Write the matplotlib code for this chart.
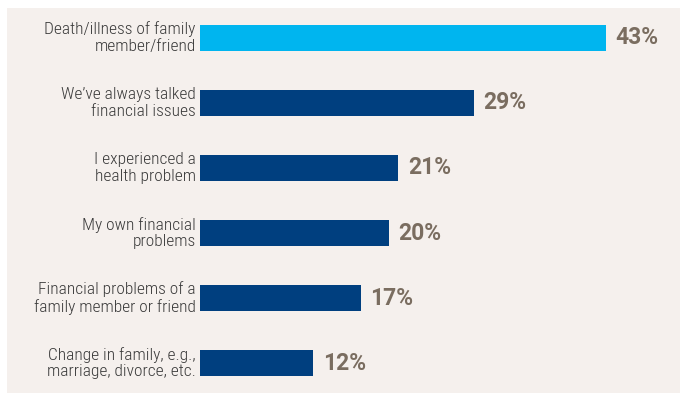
import matplotlib
matplotlib.use("Agg")
import matplotlib.pyplot as plt

categories = [
    "Death/illness of family\nmember/friend",
    "We\u2019ve always talked\nfinancial issues",
    "I experienced a\nhealth problem",
    "My own financial\nproblems",
    "Financial problems of a\nfamily member or friend",
    "Change in family, e.g.,\nmarriage, divorce, etc.",
]
values = [43, 29, 21, 20, 17, 12]
value_labels = ["43%", "29%", "21%", "20%", "17%", "12%"]
bar_colors = ["#00b5ef", "#003f7f", "#003f7f", "#003f7f", "#003f7f", "#003f7f"]

W, H = 683, 396
fig = plt.figure(figsize=(W / 100, H / 100), dpi=100)
fig.patch.set_facecolor("white")

# light panel behind the chart
bg = fig.add_axes([7 / W, 3 / H, 673 / W, 385 / H], zorder=0)
bg.set_facecolor("#f5f0ed")
bg.set_xticks([])
bg.set_yticks([])
for s in bg.spines.values():
    s.set_visible(False)

ax_left, ax_right = 200, 680
ax_top, ax_bottom = 8, 393
ax = fig.add_axes([ax_left / W, 1 - ax_bottom / H,
                   (ax_right - ax_left) / W, (ax_bottom - ax_top) / H], zorder=1)
ax.set_facecolor("none")

px_per_unit = 406 / 43
ax.set_xlim(0, (ax_right - ax_left) / px_per_unit)
ax.set_ylim(5.46, -0.46)

ypos = list(range(len(values)))
ax.barh(ypos, values, height=0.4, color=bar_colors, zorder=2)

label_font = ["Roboto Condensed", "Liberation Sans Narrow", "Open Sans", "DejaVu Sans"]
value_font = ["Roboto", "Open Sans", "DejaVu Sans"]
for y, v, t in zip(ypos, values, value_labels):
    ax.annotate(t, (v, y), xytext=(7, 0), textcoords="offset points",
                va="center", ha="left", fontsize=16.5, fontweight="bold",
                color="#7a6d60", family=value_font)

for y, c in zip(ypos, categories):
    ax.annotate(c, (0, y), xytext=(-3, 0), textcoords="offset points",
                va="center", ha="right", fontsize=12.5, color="#3a3a3a",
                family=label_font, fontweight="light", linespacing=1.15)

ax.set_xticks([])
ax.set_yticks([])
for s in ax.spines.values():
    s.set_visible(False)

fig.savefig("out.png", dpi=100, facecolor="white")
